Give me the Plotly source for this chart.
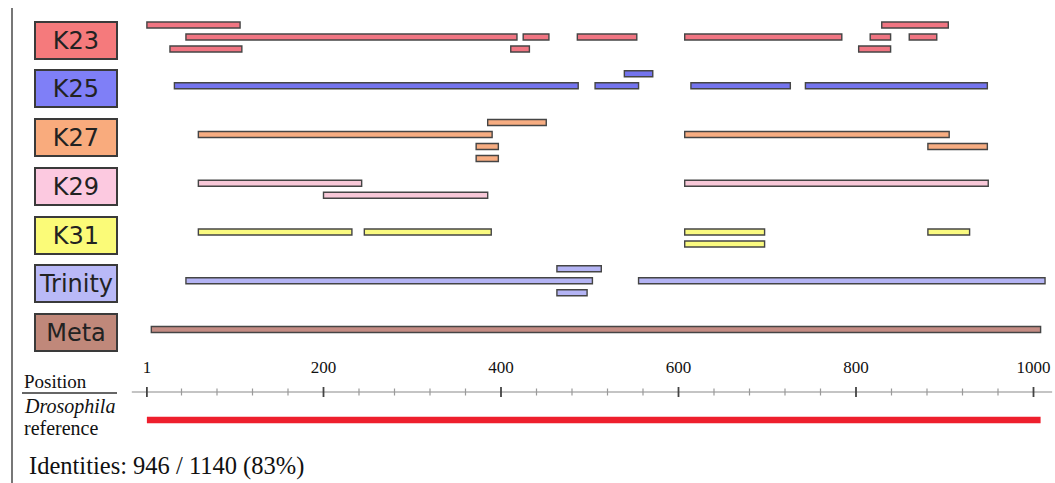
import plotly.graph_objects as go

W, H = 1055, 483

# Assemblies compared against the Drosophila reference
tracks = ["K23", "K25", "K27", "K29", "K31", "Trinity", "Meta"]
box_colors = ["#f57a7c", "#7f7ff7", "#f9ab7d", "#fcc9e0", "#fbfb78", "#b9b9f7", "#c0887a"]
bar_colors = ["#f07582", "#7474ee", "#f7ad82", "#f8c8d8", "#fafa80", "#b4b4f4", "#c48c84"]

# Aligned segments: (lane, start, end); lane 0 is the main row, -1 above, 1/2 below
k23 = [(-1, 1, 106), (-1, 829, 904),
       (0, 45, 418), (0, 425, 454), (0, 486, 553), (0, 607, 784), (0, 816, 839), (0, 860, 891),
       (1, 27, 108), (1, 411, 432), (1, 803, 839)]
k25 = [(-1, 539, 571),
       (0, 32, 487), (0, 506, 555), (0, 614, 726), (0, 743, 948)]
k27 = [(-1, 385, 451),
       (0, 59, 390), (0, 607, 905),
       (1, 372, 397), (1, 881, 948),
       (2, 372, 397)]
k29 = [(0, 59, 243), (0, 607, 949),
       (1, 200, 385)]
k31 = [(0, 59, 232), (0, 246, 389), (0, 607, 697), (0, 881, 928),
       (1, 607, 697)]
trinity = [(-1, 463, 513),
           (0, 45, 503), (0, 555, 1013),
           (1, 463, 497)]
meta = [(0, 6, 1008)]
segments = [k23, k25, k27, k29, k31, trinity, meta]

ref_span = (1, 1008)
axis_span = (-16, 1021)
major_ticks = [1, 200, 400, 600, 800, 1000]
minor_ticks = [v for v in range(40, 1000, 40) if v % 200 != 0]
identities = "Identities: 946 / 1140 (83%)"

# Layout geometry (pixels)
x_origin_px, px_per_unit = 146.0, 0.8875
x_range = [-x_origin_px / px_per_unit, (W - x_origin_px) / px_per_unit]
row0_px, row_step_px, lane_step_px = 40.0, 48.75, 12.0
bar_h = 6.0
axis_y_px = 392.0
ref_y_px = 420.0

serif = "Liberation Serif, Times New Roman, serif"
sans = "DejaVu Sans, Verdana, sans-serif"

fig = go.Figure()

for i, (name, segs) in enumerate(zip(tracks, segments)):
    main_y = row0_px + row_step_px * i - 3
    fig.add_trace(go.Bar(
        orientation="h",
        y=[main_y + lane * lane_step_px for lane, _, _ in segs],
        base=[s for _, s, _ in segs],
        x=[e - s for _, s, e in segs],
        width=bar_h,
        marker=dict(color=bar_colors[i], line=dict(color="#454545", width=1.4)),
        name=name, showlegend=False, hoverinfo="skip",
    ))
    fig.add_annotation(
        x=76 / W, xref="paper", y=row0_px + row_step_px * i, yref="y",
        text=name, showarrow=False, width=80, height=35,
        bgcolor=box_colors[i], bordercolor="#3a3a3a", borderwidth=2, borderpad=0,
        font=dict(family=sans, size=24, color="#222222"),
        xanchor="center", yanchor="middle",
    )

# Reference sequence bar
fig.add_trace(go.Bar(
    orientation="h", y=[ref_y_px], base=[ref_span[0]], x=[ref_span[1] - ref_span[0]],
    width=6.5, marker=dict(color="#ee1f2d", line=dict(width=0)),
    showlegend=False, hoverinfo="skip",
))

# Position ruler: line, minor and major ticks
fig.add_trace(go.Scatter(
    x=list(axis_span), y=[axis_y_px, axis_y_px], mode="lines",
    line=dict(color="#b0b0b0", width=1.5), showlegend=False, hoverinfo="skip",
))
mx, my = [], []
for v in minor_ticks:
    mx += [v, v, None]
    my += [axis_y_px - 3.5, axis_y_px + 3.5, None]
fig.add_trace(go.Scatter(x=mx, y=my, mode="lines", line=dict(color="#9a9a9a", width=1.2),
                         showlegend=False, hoverinfo="skip"))
Mx, My = [], []
for v in major_ticks:
    Mx += [v, v, None]
    My += [axis_y_px - 5, axis_y_px + 5, None]
fig.add_trace(go.Scatter(x=Mx, y=My, mode="lines", line=dict(color="#444444", width=1.8),
                         showlegend=False, hoverinfo="skip"))

# Left-side labels
fig.add_annotation(x=22 / W, xref="paper", y=381, yref="y", text="Position", showarrow=False,
                   xanchor="left", yanchor="middle", font=dict(family=serif, size=19, color="#111"))
fig.add_annotation(x=22 / W, xref="paper", y=406, yref="y", text="<i>Drosophila</i>", showarrow=False,
                   xanchor="left", yanchor="middle", font=dict(family=serif, size=20, color="#111"))
fig.add_annotation(x=22 / W, xref="paper", y=428, yref="y", text="reference", showarrow=False,
                   xanchor="left", yanchor="middle", font=dict(family=serif, size=20, color="#111"))
fig.add_annotation(x=27 / W, xref="paper", y=466, yref="y", text=identities, showarrow=False,
                   xanchor="left", yanchor="middle", font=dict(family=serif, size=24.5, color="#111"))

fig.update_layout(
    width=W, height=H,
    margin=dict(l=0, r=0, t=0, b=0),
    paper_bgcolor="white", plot_bgcolor="white",
    barmode="overlay",
    xaxis=dict(
        range=x_range, showgrid=False, zeroline=False, showline=False,
        tickvals=major_ticks, ticktext=[str(v) for v in major_ticks],
        side="top", anchor="free", position=1 - 384 / H,
        ticks="outside", ticklen=4, tickcolor="rgba(0,0,0,0)",
        tickfont=dict(family=serif, size=17, color="#111"),
        fixedrange=True,
    ),
    yaxis=dict(range=[H, 0], visible=False, fixedrange=True),
    shapes=[
        dict(type="line", xref="paper", yref="y", x0=12 / W, x1=12 / W, y0=8, y1=H,
             line=dict(color="#777777", width=2)),
        dict(type="line", xref="paper", yref="y", x0=22 / W, x1=117 / W, y0=393, y1=393,
             line=dict(color="#666666", width=2)),
    ],
)

fig.write_html("out.html")
